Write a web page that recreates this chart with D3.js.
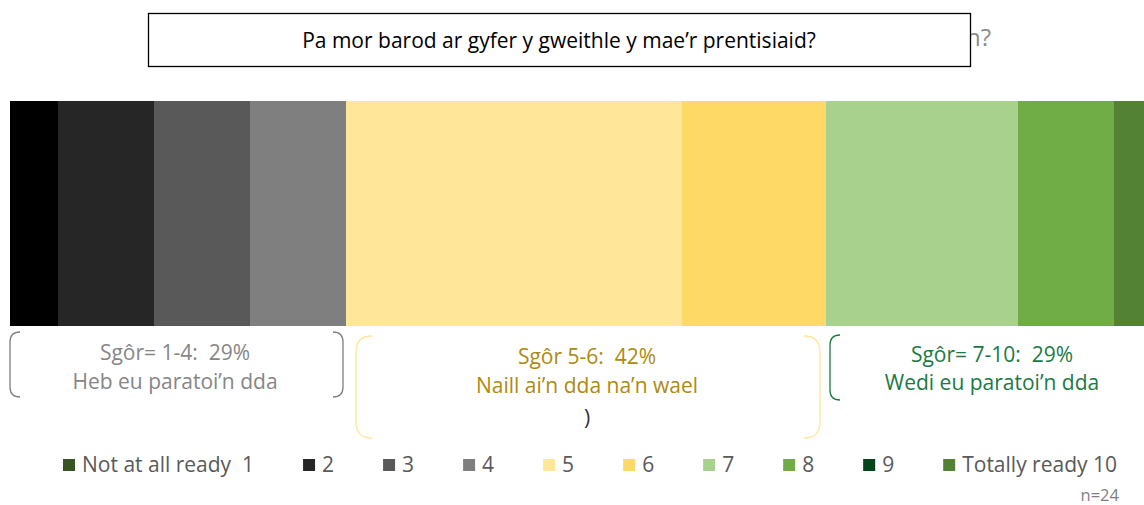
<!DOCTYPE html>
<html>
<head>
<meta charset="utf-8">
<script src="https://cdn.jsdelivr.net/npm/d3@7"></script>
<style>
  body { margin: 0; background: #fff; }
  svg { display: block; font-family: "Open Sans", "Noto Sans", sans-serif; }
</style>
</head>
<body>
<div id="chart"></div>
<script>
// scores 1..10, number of respondents for each (n=24)
var scores = ["1", "2", "3", "4", "5", "6", "7", "8", "9", "10"];
var counts = [1, 2, 2, 2, 7, 3, 4, 2, 0, 1];
var legendLabels = ["Not at all ready\u00a0\u00a01", "2", "3", "4", "5", "6", "7", "8", "9", "Totally ready 10"];
var barColors = ["#000000", "#262626", "#595959", "#7f7f7f", "#ffe699", "#ffd966", "#a9d18e", "#70ad47", "#00441b", "#548235"];
var legendColors = ["#375623", "#262626", "#595959", "#7f7f7f", "#ffe699", "#ffd966", "#a9d18e", "#70ad47", "#00441b", "#548235"];

// score groups shown under the bar
var groupNames = ["Sgôr= 1-4:", "Sgôr 5-6:", "Sgôr= 7-10:"];
var groupTexts = ["Heb eu paratoi’n dda", "Naill ai’n dda na’n wael", "Wedi eu paratoi’n dda"];
var groupRanges = [[0, 4], [4, 6], [6, 10]];
var groupColors = ["#868686", "#ad8a10", "#1b7a44"];
var groupStrokes = ["#7f7f7f", "#ffe699", "#1b7a44"];

var title = "Pa mor barod ar gyfer y gweithle y mae’r prentisiaid?";
var total = d3.sum(counts);

var width = 1144, height = 505;
var svg = d3.select("#chart").append("svg")
    .attr("width", width)
    .attr("height", height);

// the bar runs past the right edge, like the original
var x = d3.scaleLinear().domain([0, total]).range([10, 10 + total * 48]);
var barTop = 101, barBottom = 326;

var starts = [];
counts.reduce(function(acc, c, i) { starts[i] = acc; return acc + c; }, 0);
var segs = scores.map(function(s, i) {
    return { score: s, start: starts[i], count: counts[i], color: barColors[i] };
});

svg.append("g").selectAll("rect")
    .data(segs.filter(function(d) { return d.count > 0; }))
    .enter().append("rect")
    .attr("x", function(d) { return x(d.start); })
    .attr("y", barTop)
    .attr("width", function(d) { return x(d.start + d.count) - x(d.start); })
    .attr("height", barBottom - barTop)
    .attr("fill", function(d) { return d.color; });

// hidden title behind the box, only its end shows
svg.append("text")
    .attr("x", 991).attr("y", 46)
    .attr("text-anchor", "end")
    .attr("fill", "#8c8c8c")
    .style("font-size", "24px")
    .text("n?");

svg.append("rect")
    .attr("x", 148.5).attr("y", 13.5)
    .attr("width", 822).attr("height", 53)
    .attr("fill", "#fff")
    .attr("stroke", "#000")
    .attr("stroke-width", 1.3);

svg.append("text")
    .attr("x", 559).attr("y", 48)
    .attr("text-anchor", "middle")
    .attr("fill", "#000")
    .style("font-size", "21px")
    .text(title);

// brackets
function leftBracket(x0, y0, y1, r) {
    return "M" + (x0 + r) + "," + y0 + " Q" + x0 + "," + y0 + " " + x0 + "," + (y0 + r) +
        " L" + x0 + "," + (y1 - r) + " Q" + x0 + "," + y1 + " " + (x0 + r) + "," + y1;
}
function rightBracket(x0, y0, y1, r) {
    return "M" + (x0 - r) + "," + y0 + " Q" + x0 + "," + y0 + " " + x0 + "," + (y0 + r) +
        " L" + x0 + "," + (y1 - r) + " Q" + x0 + "," + y1 + " " + (x0 - r) + "," + y1;
}

var groups = groupRanges.map(function(r, i) {
    var c = d3.sum(counts.slice(r[0], r[1]));
    return {
        name: groupNames[i], text: groupTexts[i],
        pct: Math.round(c / total * 100),
        x0: x(starts[r[0]]), x1: x(starts[r[0]] + c),
        color: groupColors[i], stroke: groupStrokes[i]
    };
});

var bg = svg.append("g").attr("fill", "none").attr("stroke-width", 1.3);
// 1-4
bg.append("path").attr("stroke", groups[0].stroke)
    .attr("d", leftBracket(groups[0].x0, 332, 397, 10));
bg.append("path").attr("stroke", groups[0].stroke)
    .attr("d", rightBracket(groups[0].x1 - 3, 332, 397, 10));
// 5-6
bg.append("path").attr("stroke", groups[1].stroke)
    .attr("d", leftBracket(groups[1].x0 + 10, 336, 438, 16));
bg.append("path").attr("stroke", groups[1].stroke)
    .attr("d", rightBracket(groups[1].x1 - 6, 336, 438, 16));
// 7-10
bg.append("path").attr("stroke", groups[2].stroke)
    .attr("d", leftBracket(groups[2].x0 + 4, 335, 400, 10));

var labelPos = [[175, 360, 389], [587, 364, 393], [992, 362, 390]];
groups.forEach(function(g, i) {
    var t = svg.append("text")
        .attr("text-anchor", "middle")
        .attr("fill", g.color)
        .style("font-size", "21px");
    t.append("tspan").attr("x", labelPos[i][0]).attr("y", labelPos[i][1])
        .text(g.name + "\u00a0\u00a0" + g.pct + "%");
    t.append("tspan").attr("x", labelPos[i][0]).attr("y", labelPos[i][2])
        .text(g.text);
});
svg.append("text")
    .attr("x", 587).attr("y", 425)
    .attr("text-anchor", "middle")
    .attr("fill", "#333333")
    .style("font-size", "21px")
    .text(")");

// legend
var legend = svg.append("g");
var lx = 63, ly = 465;
scores.forEach(function(s, i) {
    var item = legend.append("g").attr("transform", "translate(" + lx + ",0)");
    item.append("rect")
        .attr("x", 0).attr("y", ly - 6)
        .attr("width", 12).attr("height", 12)
        .attr("fill", legendColors[i]);
    var t = item.append("text")
        .attr("x", 19).attr("y", ly + 7)
        .attr("fill", "#595959")
        .style("font-size", "21px")
        .text(legendLabels[i]);
    lx += 19 + t.node().getComputedTextLength() + 49;
});

svg.append("text")
    .attr("x", 1119).attr("y", 501)
    .attr("text-anchor", "end")
    .attr("fill", "#7f7f7f")
    .style("font-size", "16.5px")
    .text("n=" + total);
</script>
</body>
</html>
